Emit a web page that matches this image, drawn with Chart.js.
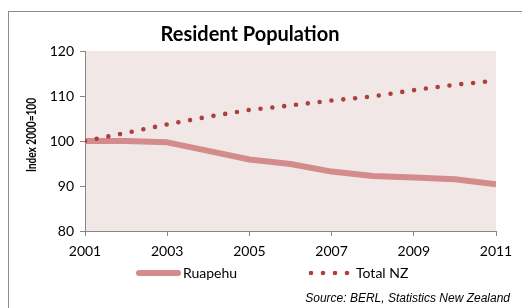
<!DOCTYPE html>
<html>
<head>
<meta charset="utf-8">
<script src="https://cdn.jsdelivr.net/npm/chart.js@4"></script>
<style>
  html, body { margin: 0; padding: 0; background: #fff; }
  #chart { display: block; }
</style>
</head>
<body>
<canvas id="chart" width="522" height="308"></canvas>
<script>
// values (index, 2000 = 100)
const years = [2001, 2002, 2003, 2004, 2005, 2006, 2007, 2008, 2009, 2010, 2011];
const ruapehu = [100, 100, 99.7, 97.8, 95.9, 94.9, 93.2, 92.2, 91.9, 91.5, 90.4];
const totalNZ = [100, 101.8, 103.7, 105.4, 106.9, 107.9, 109.0, 109.9, 111.3, 112.5, 113.4];
const xTicks = [2001, 2003, 2005, 2007, 2009, 2011];
const yTicks = [80, 90, 100, 110, 120];

const FONT = 'Lato, "Open Sans", sans-serif';
const AXIS_GREY = '#868686';
const RUA_COL = '#d38b8b';
const NZ_COL = '#ad3f3d';

const toPoints = (vals) => vals.map((v, i) => ({ x: years[i], y: v }));

// background, frame and the extra texts
const decor = {
  id: 'decor',
  beforeDraw(chart) {
    const { ctx, chartArea: a } = chart;
    ctx.save();
    ctx.fillStyle = '#f2e7e7';
    ctx.fillRect(a.left, a.top, a.right - a.left, a.bottom - a.top);
    ctx.strokeStyle = '#8c8c8c';
    ctx.lineWidth = 1;
    ctx.strokeRect(8.5, 11.5, 530, 320);
    ctx.restore();
  },
  afterDraw(chart) {
    const { ctx } = chart;
    ctx.save();
    ctx.fillStyle = '#000';
    ctx.textBaseline = 'alphabetic';

    // title
    ctx.font = 'bold 20px ' + FONT;
    ctx.textAlign = 'center';
    ctx.fillText('Resident Population', 250, 41);

    // y axis title (squeezed to the narrow width of the original)
    ctx.save();
    ctx.translate(35.5, 135);
    ctx.rotate(-Math.PI / 2);
    ctx.font = 'bold 13px ' + FONT;
    ctx.textAlign = 'center';
    const yTitle = 'Index 2000=100';
    const w = ctx.measureText(yTitle).width;
    ctx.scale(74 / w, 1);
    ctx.fillText(yTitle, 0, 0);
    ctx.restore();

    // legend
    const ly = 273;
    ctx.strokeStyle = RUA_COL;
    ctx.lineWidth = 6;
    ctx.lineCap = 'round';
    ctx.beginPath();
    ctx.moveTo(139, ly);
    ctx.lineTo(178, ly);
    ctx.stroke();
    ctx.fillStyle = NZ_COL;
    [311, 323, 335, 347].forEach(x => {
      ctx.beginPath();
      ctx.arc(x, ly, 2.3, 0, Math.PI * 2);
      ctx.fill();
    });
    ctx.fillStyle = '#000';
    ctx.font = '14px ' + FONT;
    ctx.textAlign = 'left';
    ctx.textBaseline = 'middle';
    ctx.fillText('Ruapehu', 183, ly);
    ctx.fillText('Total NZ', 356, ly);

    // source
    ctx.font = 'italic 12px "Liberation Sans", Arial, sans-serif';
    ctx.textAlign = 'right';
    ctx.textBaseline = 'alphabetic';
    ctx.fillText('Source: BERL, Statistics New Zealand', 510, 302);
    ctx.restore();
  }
};

const gridOpts = { drawOnChartArea: false, tickLength: 5, color: AXIS_GREY };
const tickFont = { family: FONT, size: 14 };

new Chart(document.getElementById('chart'), {
  type: 'line',
  data: {
    datasets: [{
      label: 'Total NZ',
      data: toPoints(totalNZ),
      borderColor: NZ_COL,
      borderWidth: 4.6,
      borderDash: [0, 11.9],
      borderCapStyle: 'round',
      pointRadius: 0,
      tension: 0
    }, {
      label: 'Ruapehu',
      data: toPoints(ruapehu),
      borderColor: RUA_COL,
      borderWidth: 6,
      borderJoinStyle: 'round',
      pointRadius: 0,
      tension: 0
    }]
  },
  options: {
    responsive: false,
    animation: false,
    layout: { padding: { left: 0, right: 26, top: 51, bottom: 0 } },
    plugins: { legend: { display: false }, title: { display: false }, tooltip: { enabled: false } },
    scales: {
      x: {
        type: 'linear', min: 2001, max: 2011,
        afterBuildTicks: (s) => { s.ticks = xTicks.map(v => ({ value: v })); },
        ticks: { color: '#000', font: tickFont, padding: 7, maxRotation: 0, callback: v => String(v) },
        grid: gridOpts,
        border: { color: AXIS_GREY },
        afterFit: (s) => { s.height = 77; }
      },
      y: {
        min: 80, max: 120,
        afterBuildTicks: (s) => { s.ticks = yTicks.map(v => ({ value: v })); },
        ticks: { color: '#000', font: tickFont, padding: 6 },
        grid: gridOpts,
        border: { color: AXIS_GREY },
        afterFit: (s) => { s.width = 85; }
      }
    }
  },
  plugins: [decor]
});
</script>
</body>
</html>
